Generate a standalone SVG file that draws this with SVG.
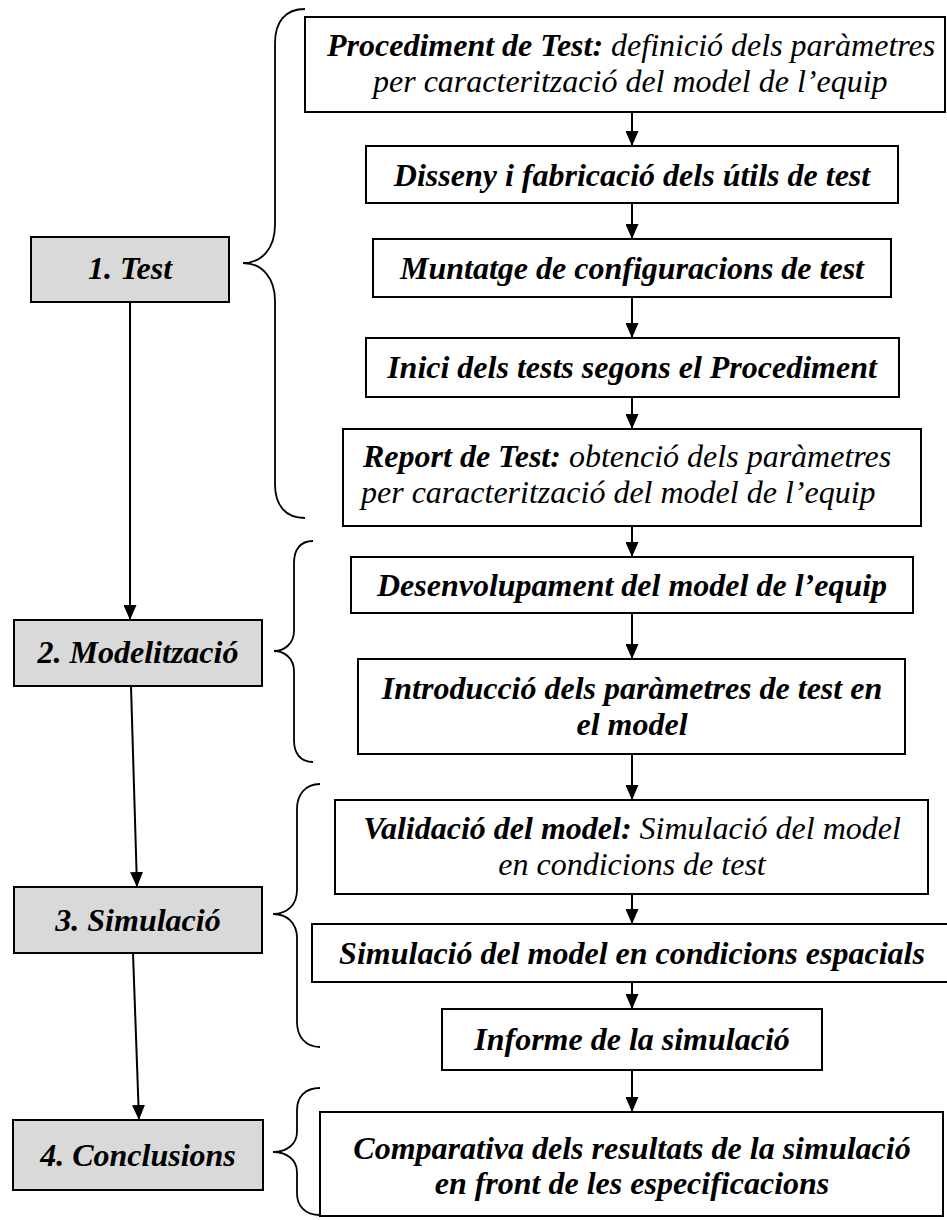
<svg xmlns="http://www.w3.org/2000/svg" width="947" height="1220" viewBox="0 0 947 1220">
<style>
.box{fill:#fff;stroke:#000;stroke-width:2}
.phase{fill:#d9d9d9;stroke:#000;stroke-width:2}
.brace{fill:none;stroke:#000;stroke-width:1.8}
.con{fill:none;stroke:#000;stroke-width:2;marker-end:url(#ah)}
.t{font-family:"Liberation Serif","Times New Roman",serif;font-style:italic;font-size:32px;fill:#000}
.b{font-weight:bold}
.m{text-anchor:middle}
</style>
<defs>
<marker id="ah" markerUnits="userSpaceOnUse" markerWidth="15" markerHeight="13" refX="15" refY="6.5" orient="auto">
<path d="M0,0 L15,6.5 L0,13 z" fill="#000"/>
</marker>
</defs>
<rect width="947" height="1220" fill="#fff"/>

<g id="braces">
<path class="brace" d="M305,9 C285,9 275,22 275,43 L275,225 C275,248 262,263 243,263 C262,263 275,278 275,301 L275,484 C275,505 285,518 305,518"/>
<path class="brace" d="M313,541 C300,541 294,550 294,563 L294,631 C294,643 285,651 274,651 C285,651 294,659 294,671 L294,740 C294,753 300,762 313,762"/>
<path class="brace" d="M320,784 C305,784 297,795 297,809 L297,890 C297,905 287,914 273,914 C287,914 297,923 297,938 L297,1022 C297,1036 305,1047 320,1047"/>
<path class="brace" d="M320,1088 C305,1088 297,1097 297,1110 L297,1132 C297,1144 287,1152 273,1152 C287,1152 297,1160 297,1172 L297,1193 C297,1206 305,1215 320,1215"/>
</g>

<g id="connectors">
<line class="con" x1="632" y1="112" x2="632" y2="146"/>
<line class="con" x1="632" y1="203" x2="632" y2="239"/>
<line class="con" x1="632" y1="297" x2="632" y2="338"/>
<line class="con" x1="632" y1="397" x2="632" y2="429"/>
<line class="con" x1="632" y1="526" x2="632" y2="557"/>
<line class="con" x1="632" y1="613" x2="632" y2="659"/>
<line class="con" x1="632" y1="754" x2="632" y2="800"/>
<line class="con" x1="632" y1="894" x2="632" y2="924"/>
<line class="con" x1="632" y1="982" x2="632" y2="1009"/>
<line class="con" x1="632" y1="1070" x2="632" y2="1112"/>
<line class="con" x1="130" y1="302" x2="130" y2="620"/>
<line class="con" x1="131" y1="686" x2="137" y2="887"/>
<line class="con" x1="133" y1="953" x2="139" y2="1120"/>
</g>

<g id="phase1">
<rect class="phase" x="31" y="237" width="198" height="65"/>
<text class="t b m" x="130" y="279">1. Test</text>
</g>
<g id="phase2">
<rect class="phase" x="14" y="620" width="248" height="66"/>
<text class="t b m" x="138" y="663">2. Modelització</text>
</g>
<g id="phase3">
<rect class="phase" x="14" y="887" width="248" height="66"/>
<text class="t b m" x="138" y="931">3. Simulació</text>
</g>
<g id="phase4">
<rect class="phase" x="13" y="1120" width="250" height="70"/>
<text class="t b m" x="138" y="1166">4. Conclusions</text>
</g>

<g id="procediment">
<rect class="box" x="305" y="17" width="640" height="95"/>
<text class="t" x="327" y="56"><tspan class="b">Procediment de Test:</tspan> definició dels paràmetres</text>
<text class="t" x="373" y="92">per caracterització del model de l’equip</text>
</g>
<g id="disseny">
<rect class="box" x="366" y="146" width="532" height="57"/>
<text class="t b m" x="632" y="186">Disseny i fabricació dels útils de test</text>
</g>
<g id="muntatge">
<rect class="box" x="373" y="239" width="518" height="58"/>
<text class="t b m" x="632" y="279">Muntatge de configuracions de test</text>
</g>
<g id="inici">
<rect class="box" x="366" y="338" width="533" height="59"/>
<text class="t b m" x="632" y="378">Inici dels tests segons el Procediment</text>
</g>
<g id="report">
<rect class="box" x="343" y="429" width="578" height="97"/>
<text class="t" x="363" y="467"><tspan class="b">Report de Test:</tspan> obtenció dels paràmetres</text>
<text class="t" x="361" y="503">per caracterització del model de l’equip</text>
</g>
<g id="desenvolupament">
<rect class="box" x="351" y="557" width="562" height="56"/>
<text class="t b m" x="632" y="596">Desenvolupament del model de l’equip</text>
</g>
<g id="introduccio">
<rect class="box" x="358" y="659" width="547" height="95"/>
<text class="t b m" x="632" y="699">Introducció dels paràmetres de test en</text>
<text class="t b m" x="632" y="735">el model</text>
</g>
<g id="validacio">
<rect class="box" x="335" y="800" width="593" height="94"/>
<text class="t m" x="632" y="839"><tspan class="b">Validació del model:</tspan> Simulació del model</text>
<text class="t m" x="632" y="875">en condicions de test</text>
</g>
<g id="simulacio-espacials">
<rect class="box" x="312" y="924" width="640" height="58"/>
<text class="t b m" x="632" y="964">Simulació del model en condicions espacials</text>
</g>
<g id="informe">
<rect class="box" x="442" y="1009" width="380" height="61"/>
<text class="t b m" x="632" y="1050">Informe de la simulació</text>
</g>
<g id="comparativa">
<rect class="box" x="320" y="1112" width="623" height="104"/>
<text class="t b m" x="632" y="1159">Comparativa dels resultats de la simulació</text>
<text class="t b m" x="632" y="1194">en front de les especificacions</text>
</g>
</svg>
